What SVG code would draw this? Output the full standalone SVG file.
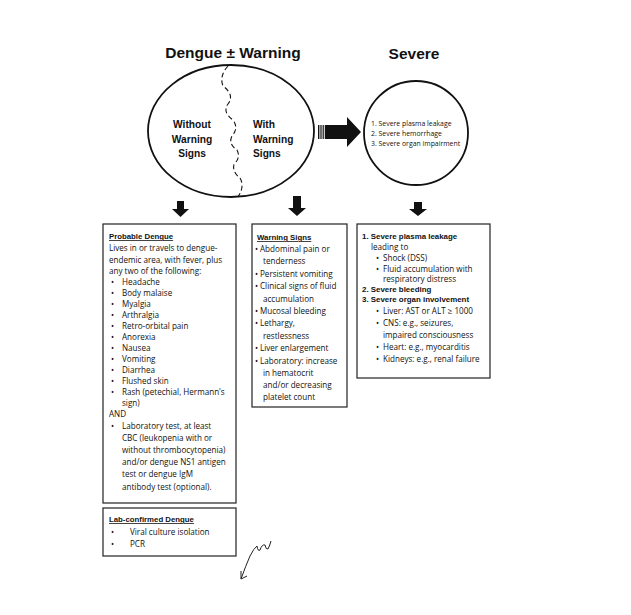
<svg xmlns="http://www.w3.org/2000/svg" width="631" height="615" viewBox="0 0 631 615">
<style>
.t{font-family:"Liberation Sans",Arial,sans-serif;fill:#111}
.title{font-size:15.5px;font-weight:bold}
.lbl{font-size:10.2px;font-weight:bold}
.b{font-family:"Open Sans","Liberation Sans",sans-serif;font-size:8.1px}
.c{font-family:"Open Sans","Liberation Sans",sans-serif;font-size:6.9px}
.h{font-size:7.8px;font-weight:bold;text-decoration:underline}
.sb{font-size:7.9px;font-weight:bold}
.box{fill:#fff;stroke:#222;stroke-width:1.2}
.shape{fill:#fff;stroke:#111;stroke-width:1.8}
.arr{fill:#111}
</style>
<rect width="631" height="615" fill="#fff"/>
<g id="titles">
<text class="t title" x="233" y="58" text-anchor="middle">Dengue ± Warning</text>
<text class="t title" x="414" y="59" text-anchor="middle">Severe</text>
</g>
<g id="dengue-ellipse">
<ellipse class="shape" cx="231" cy="131" rx="83" ry="66"/>
<path d="M228 66 Q219 76 223 86 Q235 95 228 104 Q222 112 233 120 Q239 128 232 136 Q228 144 237 150 Q241 158 234 164 Q232 172 240 178 Q245 186 238 197" fill="none" stroke="#111" stroke-width="1.1" stroke-dasharray="5 3"/>
<text class="t lbl" x="192" y="127.5" text-anchor="middle">Without</text>
<text class="t lbl" x="192" y="142.5" text-anchor="middle">Warning</text>
<text class="t lbl" x="192" y="157" text-anchor="middle">Signs</text>
<text class="t lbl" x="253" y="127.5">With</text>
<text class="t lbl" x="253" y="142.5">Warning</text>
<text class="t lbl" x="253" y="157">Signs</text>
</g>
<g id="severe-circle">
<circle class="shape" cx="416" cy="133" r="52"/>
<text class="t c" x="371" y="125.5">1.  Severe plasma leakage</text>
<text class="t c" x="371" y="135.5">2.  Severe hemorrhage</text>
<text class="t c" x="371" y="145.5">3.  Severe organ impairment</text>
</g>
<g id="connectors">
<rect class="arr" x="318" y="125" width="1.4" height="14"/>
<rect class="arr" x="320.4" y="125" width="1.2" height="14"/>
<rect class="arr" x="322.6" y="125" width="1.2" height="14"/>
<polygon class="arr" points="324.8,125 347,125 347,117 361,132 347,147 347,139 324.8,139"/>
<polygon class="arr" points="177,201 184,201 184,209 189,209 180.5,217 172,209 177,209"/>
<polygon class="arr" points="293,196 301,196 301,208 306,208 297,216 288,208 293,208"/>
<polygon class="arr" points="414,202 422,202 422,209 427,209 418,216 409,209 414,209"/>
</g>
<g id="probable-dengue">
<rect class="box" x="103" y="224" width="133" height="279"/>
<text class="t h" x="109" y="239">Probable Dengue</text>
<text class="t b" x="109" y="251">Lives in or travels to dengue-</text>
<text class="t b" x="109" y="263">endemic area, with fever, plus</text>
<text class="t b" x="109" y="274">any two of the following:</text>
<g class="t b">
<text x="111" y="285">•</text><text x="122" y="285">Headache</text>
<text x="111" y="296">•</text><text x="122" y="296">Body malaise</text>
<text x="111" y="307">•</text><text x="122" y="307">Myalgia</text>
<text x="111" y="318">•</text><text x="122" y="318">Arthralgia</text>
<text x="111" y="329">•</text><text x="122" y="329">Retro-orbital pain</text>
<text x="111" y="340">•</text><text x="122" y="340">Anorexia</text>
<text x="111" y="351">•</text><text x="122" y="351">Nausea</text>
<text x="111" y="362">•</text><text x="122" y="362">Vomiting</text>
<text x="111" y="373">•</text><text x="122" y="373">Diarrhea</text>
<text x="111" y="384">•</text><text x="122" y="384">Flushed skin</text>
<text x="111" y="395">•</text><text x="122" y="395">Rash (petechial, Hermann's</text>
<text x="122" y="406">sign)</text>
<text x="109" y="417">AND</text>
<text x="111" y="429">•</text><text x="122" y="429">Laboratory test, at least</text>
<text x="122" y="441">CBC (leukopenia with or</text>
<text x="122" y="453">without thrombocytopenia)</text>
<text x="122" y="465">and/or dengue NS1 antigen</text>
<text x="122" y="477">test or dengue IgM</text>
<text x="122" y="490">antibody test (optional).</text>
</g>
</g>
<g id="lab-confirmed">
<rect class="box" x="103" y="508" width="133" height="48"/>
<text class="t h" x="109" y="522">Lab-confirmed Dengue</text>
<text class="t b" x="111" y="535">•</text><text class="t b" x="130" y="535">Viral culture isolation</text>
<text class="t b" x="111" y="547">•</text><text class="t b" x="130" y="547">PCR</text>
</g>
<g id="warning-signs">
<rect class="box" x="252" y="224" width="95" height="183"/>
<text class="t h" x="257" y="240">Warning Signs</text>
<g class="t b">
<text x="255" y="252">•</text><text x="260" y="252">Abdominal pain or</text>
<text x="263" y="264">tenderness</text>
<text x="255" y="277">•</text><text x="260" y="277">Persistent vomiting</text>
<text x="255" y="289">•</text><text x="260" y="289">Clinical signs of fluid</text>
<text x="263" y="302">accumulation</text>
<text x="255" y="314">•</text><text x="260" y="314">Mucosal bleeding</text>
<text x="255" y="326">•</text><text x="260" y="326">Lethargy,</text>
<text x="263" y="339">restlessness</text>
<text x="255" y="351">•</text><text x="260" y="351">Liver enlargement</text>
<text x="255" y="364">•</text><text x="260" y="364">Laboratory: increase</text>
<text x="263" y="376">in hematocrit</text>
<text x="263" y="388">and/or decreasing</text>
<text x="263" y="400">platelet count</text>
</g>
</g>
<g id="severe-box">
<rect class="box" x="357" y="224" width="133" height="154"/>
<text class="t sb" x="362" y="239">1. Severe plasma leakage</text>
<g class="t b">
<text x="371" y="250">leading to</text>
<text x="376" y="261">•</text><text x="383" y="261">Shock (DSS)</text>
<text x="376" y="272">•</text><text x="383" y="272">Fluid accumulation with</text>
<text x="383" y="282">respiratory distress</text>
</g>
<text class="t sb" x="362" y="292">2. Severe bleeding</text>
<text class="t sb" x="362" y="302">3. Severe organ involvement</text>
<g class="t b">
<text x="376" y="314">•</text><text x="383" y="314">Liver: AST or ALT ≥ 1000</text>
<text x="376" y="326">•</text><text x="383" y="326">CNS: e.g., seizures,</text>
<text x="383" y="338">impaired consciousness</text>
<text x="376" y="350">•</text><text x="383" y="350">Heart: e.g., myocarditis</text>
<text x="376" y="362">•</text><text x="383" y="362">Kidneys: e.g., renal failure</text>
</g>
</g>
<g id="scribble" fill="none" stroke="#222" stroke-width="1">
<path d="M241 579 Q246 565 250 556 Q254 548 257 546 Q258 552 260 550 Q262 544 265 545 Q266 550 268 549 Q270 545 271 541"/>
<path d="M241 579 L241 571 M241 579 L247 576"/>
</g>
</svg>
